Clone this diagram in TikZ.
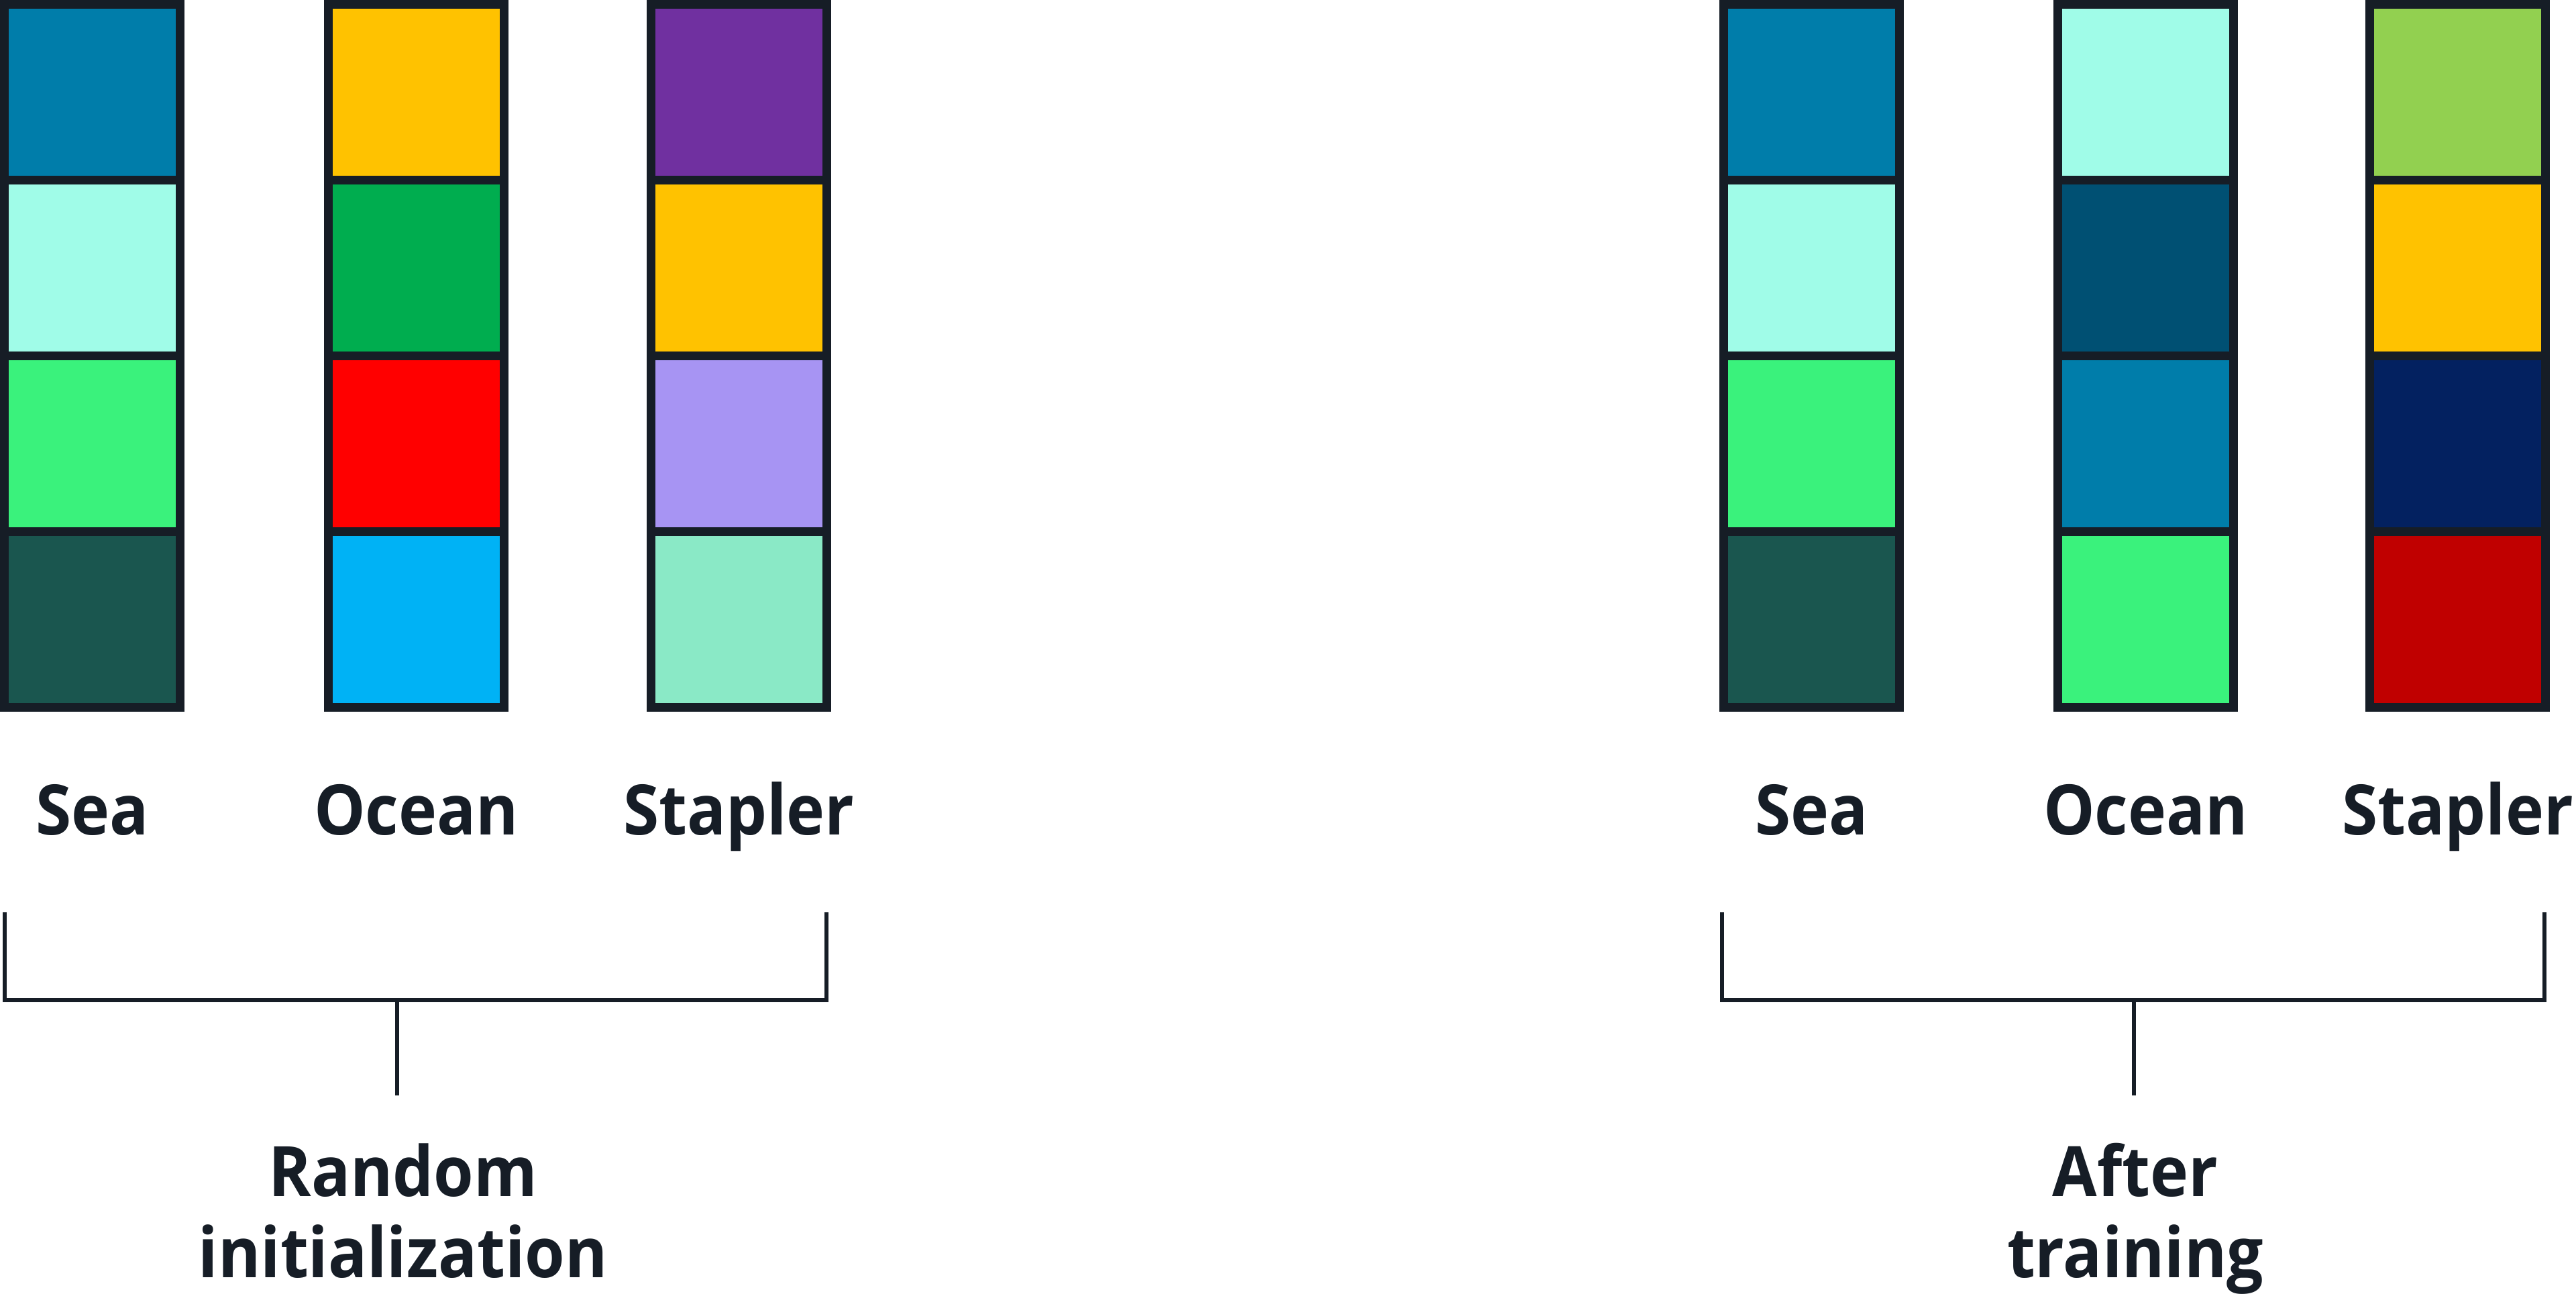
\documentclass[tikz,border=0pt]{standalone}
\usepackage{fontspec}
\setmainfont[FakeStretch=0.93]{Open Sans}
\usetikzlibrary{positioning}
\definecolor{ink}{HTML}{161D26}
\definecolor{seablue}{HTML}{007DAA}
\definecolor{aqua}{HTML}{A0FCE8}
\definecolor{spring}{HTML}{3AF27C}
\definecolor{pine}{HTML}{1A564F}
\definecolor{amber}{HTML}{FFC200}
\definecolor{grass}{HTML}{00AD4F}
\definecolor{hotred}{HTML}{FF0000}
\definecolor{sky}{HTML}{00B2F5}
\definecolor{plum}{HTML}{7030A0}
\definecolor{lavender}{HTML}{A794F3}
\definecolor{mint}{HTML}{8AE9C6}
\definecolor{deepteal}{HTML}{005073}
\definecolor{lime}{HTML}{92D050}
\definecolor{navy}{HTML}{032160}
\definecolor{crimson}{HTML}{C00000}
\begin{document}
\begin{tikzpicture}[
    cell/.style={draw=ink,line width=1.3mm,minimum size=2.62cm,inner sep=0pt,outer sep=0pt,anchor=north west},
    word/.style={text=ink,inner sep=0pt,font=\fontsize{29.5}{34.4}\selectfont\bfseries},
    brace/.style={draw=ink,line width=0.6mm}]
\useasboundingbox (0,0) rectangle (38.4,19.32);
% columns of vectors
\foreach \name/\x/\word/\colours in {
    seaA/0.065/Sea/{seablue,aqua,spring,pine},
    oceanA/4.895/Ocean/{amber,grass,hotred,sky},
    staplerA/9.705/Stapler/{plum,amber,lavender,mint},
    seaB/25.695/Sea/{seablue,aqua,spring,pine},
    oceanB/30.675/Ocean/{aqua,deepteal,seablue,spring},
    staplerB/35.325/Stapler/{lime,amber,navy,crimson}}{
  \foreach \c [count=\i] in \colours
    \node[cell,fill=\c] (\name-\i) at (\x,{19.255-2.62*(\i-1)}) {};
  \node[word,anchor=base] (\name-lab) at ([yshift=-19.05mm]\name-4.south) {\word};
}
% brackets
\coordinate (lA) at (0.07,5.72);
\coordinate (rA) at (12.32,5.72);
\coordinate (midA) at (5.92,4.41);
\coordinate (endA) at (5.92,2.99);
\coordinate (lB) at (25.67,5.72);
\coordinate (rB) at (37.93,5.72);
\coordinate (midB) at (31.81,4.41);
\coordinate (endB) at (31.81,2.99);
\draw[brace] (lA) |- (midA) -| (rA);
\draw[brace] (midA) -- (endA);
\draw[brace] (lB) |- (midB) -| (rB);
\draw[brace] (midB) -- (endB);
\node[word,align=center,anchor=south,text depth=0pt] (capA) at (6.01,0.27) {Random\\initialization};
\node[word,align=center,anchor=south,text depth=0pt] (capB) at (31.83,0.27) {After\\training};
\end{tikzpicture}
\end{document}
